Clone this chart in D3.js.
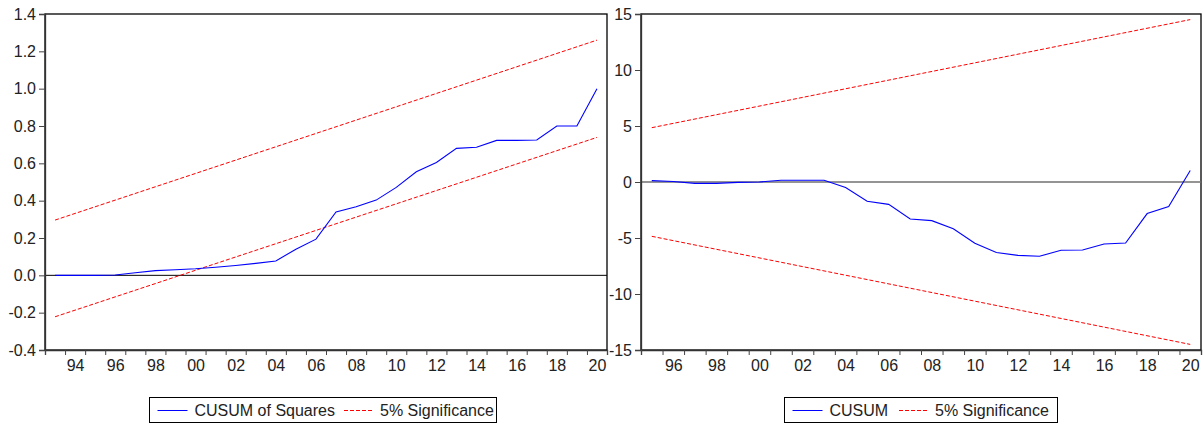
<!DOCTYPE html>
<html>
<head>
<meta charset="utf-8">
<script src="https://cdn.jsdelivr.net/npm/d3@7"></script>
<style>
  body { margin: 0; background: #fff; }
  svg text { font-family: "Liberation Sans", Arial, sans-serif; }
</style>
</head>
<body>
<div id="chart"></div>
<script>
// CUSUM of squares (left panel)
const yearsSq = [1993, 1994, 1995, 1996, 1997, 1998, 1999, 2000, 2001, 2002, 2003, 2004, 2005, 2006,
                 2007, 2008, 2009, 2010, 2011, 2012, 2013, 2014, 2015, 2016, 2017, 2018, 2019, 2020];
const cusumSq = [0.0, 0.0, 0.0, 0.002, 0.014, 0.025, 0.03, 0.035, 0.043, 0.053, 0.064, 0.077, 0.14, 0.194,
                 0.34, 0.367, 0.403, 0.471, 0.555, 0.605, 0.68, 0.686, 0.723, 0.723, 0.725, 0.80, 0.80, 1.0];
// 5% bands: straight lines, given by their end points
const sqUpper = [[1993, 0.296], [2020, 1.26]];
const sqLower = [[1993, -0.222], [2020, 0.739]];
const sqTicks = [-0.4, -0.2, 0.0, 0.2, 0.4, 0.6, 0.8, 1.0, 1.2, 1.4];

// CUSUM (right panel)
const yearsCu = [1995, 1996, 1997, 1998, 1999, 2000, 2001, 2002, 2003, 2004, 2005, 2006, 2007,
                 2008, 2009, 2010, 2011, 2012, 2013, 2014, 2015, 2016, 2017, 2018, 2019, 2020];
const cusum = [0.12, 0.05, -0.12, -0.12, -0.03, 0.0, 0.15, 0.15, 0.15, -0.5, -1.72, -2.0, -3.3,
               -3.45, -4.17, -5.47, -6.3, -6.55, -6.63, -6.1, -6.07, -5.53, -5.45, -2.82, -2.2, 1.02];
const cuUpper = [[1995, 4.85], [2020, 14.5]];
const cuLower = [[1995, -4.85], [2020, -14.5]];
const cuTicks = [-15, -10, -5, 0, 5, 10, 15];

const W = 1204, H = 425;
const fontSize = 16;

const svg = d3.select("#chart").append("svg")
    .attr("width", W)
    .attr("height", H);

const minusFix = f => v => f(v).replace("\u2212", "-");

function drawPanel(opt) {
    const g = svg.append("g");
    const {left, right, top, bottom} = opt;

    const x = d3.scaleLinear()
        .domain([opt.years[0] - 0.5, opt.years[opt.years.length - 1] + 0.5])
        .range([left, right]);
    const y = d3.scaleLinear()
        .domain(opt.yDomain)
        .range([bottom, top]);

    // frame
    g.append("rect")
        .attr("x", left).attr("y", top)
        .attr("width", right - left).attr("height", bottom - top)
        .attr("fill", "none")
        .attr("stroke", "#000")
        .attr("stroke-width", 1.3);

    // zero line
    g.append("line")
        .attr("x1", left).attr("x2", right)
        .attr("y1", y(0)).attr("y2", y(0))
        .attr("stroke", opt.zeroColor)
        .attr("stroke-width", opt.zeroWidth);

    // y axis
    g.append("g")
        .attr("transform", `translate(${left},0)`)
        .call(d3.axisLeft(y).tickValues(opt.yTicks).tickSize(6).tickPadding(3)
            .tickFormat(minusFix(d3.format(opt.yFormat))))
        .call(a => a.select(".domain").attr("stroke", "#333").attr("stroke-width", 1.3))
        .call(a => a.selectAll(".tick line").attr("stroke", "#444"))
        .call(a => a.selectAll("text")
            .attr("font-size", fontSize)
            .attr("font-family", "Liberation Sans, Arial, sans-serif")
            .attr("fill", "#222"));

    // x axis: ticks at year boundaries
    const bounds = opt.years.map(d => d - 0.5).concat([opt.years[opt.years.length - 1] + 0.5]);
    g.append("g")
        .attr("transform", `translate(0,${bottom})`)
        .call(d3.axisBottom(x).tickValues(bounds).tickSize(5).tickFormat(""))
        .call(a => a.select(".domain").attr("stroke", "#333").attr("stroke-width", 1.3))
        .call(a => a.selectAll(".tick line").attr("stroke", "#444"));

    // x labels on even years, centred in the year
    const evenYears = opt.years.filter(d => d % 2 === 0);
    g.append("g")
        .attr("transform", `translate(0,${bottom})`)
        .call(d3.axisBottom(x).tickValues(evenYears).tickSize(0).tickPadding(10)
            .tickFormat(d => String(d).slice(2)))
        .call(a => a.select(".domain").remove())
        .call(a => a.selectAll("text")
            .attr("font-size", fontSize)
            .attr("font-family", "Liberation Sans, Arial, sans-serif")
            .attr("fill", "#222"));

    const line = d3.line().x(d => x(d[0])).y(d => y(d[1]));

    // bands
    [opt.upper, opt.lower].forEach(b => {
        g.append("path")
            .attr("d", line(b))
            .attr("fill", "none")
            .attr("stroke", "#ff0000")
            .attr("stroke-width", 1)
            .attr("stroke-dasharray", "4,2");
    });

    // main series
    g.append("path")
        .attr("d", line(opt.years.map((yr, i) => [yr, opt.values[i]])))
        .attr("fill", "none")
        .attr("stroke", "#0000ff")
        .attr("stroke-width", 1.1);

    // legend
    const lg = svg.append("g");
    const L = opt.legend;
    lg.append("rect")
        .attr("x", L.x).attr("y", 397.5)
        .attr("width", L.w).attr("height", 25)
        .attr("fill", "#fff")
        .attr("stroke", "#000")
        .attr("stroke-width", 1);
    const ly = 410.5;
    lg.append("line")
        .attr("x1", L.x + 8).attr("x2", L.x + 38)
        .attr("y1", ly).attr("y2", ly)
        .attr("stroke", "#0000ff").attr("stroke-width", 1);
    lg.append("text")
        .attr("x", L.x + 45).attr("y", ly + 5.5)
        .attr("font-size", fontSize)
        .attr("fill", "#222")
        .text(L.label);
    lg.append("line")
        .attr("x1", L.x2).attr("x2", L.x2 + 30)
        .attr("y1", ly).attr("y2", ly)
        .attr("stroke", "#ff0000").attr("stroke-width", 1)
        .attr("stroke-dasharray", "4,2");
    lg.append("text")
        .attr("x", L.x2 + 36).attr("y", ly + 5.5)
        .attr("font-size", fontSize)
        .attr("fill", "#222")
        .text("5% Significance");
}

drawPanel({
    left: 45, right: 607, top: 14, bottom: 350,
    years: yearsSq, values: cusumSq,
    upper: sqUpper, lower: sqLower,
    yDomain: [-0.4, 1.4], yTicks: sqTicks, yFormat: ".1f",
    zeroColor: "#000", zeroWidth: 1,
    legend: {x: 149.5, w: 347, x2: 344, label: "CUSUM of Squares"}
});

drawPanel({
    left: 641, right: 1201, top: 14, bottom: 350,
    years: yearsCu, values: cusum,
    upper: cuUpper, lower: cuLower,
    yDomain: [-15, 15], yTicks: cuTicks, yFormat: "d",
    zeroColor: "#707070", zeroWidth: 1.5,
    legend: {x: 784.5, w: 273, x2: 899, label: "CUSUM"}
});
</script>
</body>
</html>
